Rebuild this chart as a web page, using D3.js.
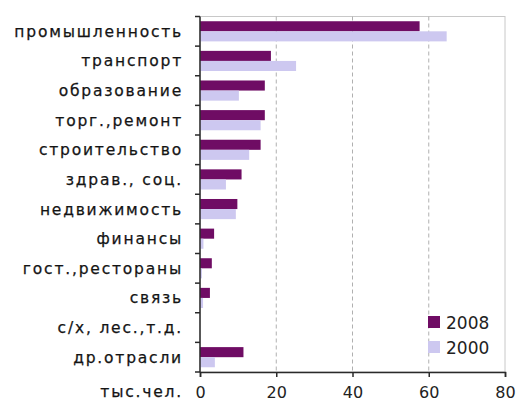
<!DOCTYPE html>
<html>
<head>
<meta charset="utf-8">
<script src="https://cdn.jsdelivr.net/npm/d3@7"></script>
<style>
  html, body { margin: 0; padding: 0; background: #fff; }
  svg { display: block; }
</style>
</head>
<body>
<svg id="chart" width="520" height="403"></svg>
<script>
// Employment by branch, thousand people
const categories = [
  "промышленность", "транспорт", "образование", "торг.,ремонт",
  "строительство", "здрав., соц.", "недвижимость", "финансы",
  "гост.,рестораны", "связь", "с/х, лес.,т.д.", "др.отрасли"
];
const values2008 = [57.6, 18.6, 17.0, 17.0, 15.9, 10.9, 9.8, 3.7, 3.1, 2.6, 0, 11.4];
const values2000 = [64.7, 25.2, 10.2, 15.9, 12.9, 6.8, 9.4, 0.9, 0.5, 0.8, 0, 3.9];
const seriesNames = ["2008", "2000"];
const xTicks = [0, 20, 40, 60, 80];
const unitLabel = "тыс.чел.";

const colors = { "2008": "#6f0c64", "2000": "#cdc8f0" };

const svg = d3.select("#chart");
const plotLeft = 200, plotRight = 505, plotTop = 16.5, plotBottom = 372;

const x = d3.scaleLinear().domain([0, 80]).range([plotLeft, plotRight]);
const y = d3.scaleBand().domain(categories).range([plotTop, plotBottom]).paddingInner(0.32).paddingOuter(0.16);
const sub = d3.scaleBand().domain(seriesNames).range([0, y.bandwidth()]);

// plot frame
svg.append("rect")
  .attr("x", plotLeft).attr("y", plotTop)
  .attr("width", plotRight - plotLeft).attr("height", plotBottom - plotTop)
  .attr("fill", "#fff").attr("stroke", "#c8c8c8").attr("stroke-width", 1);

// dashed vertical gridlines
svg.append("g").selectAll("line")
  .data(xTicks.filter(d => d > 0 && d < 80))
  .join("line")
  .attr("x1", d => x(d)).attr("x2", d => x(d))
  .attr("y1", plotTop).attr("y2", plotBottom)
  .attr("stroke", "#b0b0b0").attr("stroke-width", 1)
  .attr("stroke-dasharray", "4,3");

// bars
const rows = categories.map((c, i) => ({ c, v: { "2008": values2008[i], "2000": values2000[i] } }));
const g = svg.append("g");
rows.forEach(r => {
  seriesNames.forEach(s => {
    g.append("rect")
      .attr("x", x(0))
      .attr("y", y(r.c) + sub(s))
      .attr("width", x(r.v[s]) - x(0))
      .attr("height", sub.bandwidth())
      .attr("fill", colors[s]);
  });
});

// left axis
const yTickPos = categories.map(c => y(c) - y.step() * y.paddingInner() / 2);
yTickPos.push(plotBottom);
svg.append("line")
  .attr("x1", plotLeft).attr("x2", plotLeft).attr("y1", plotTop).attr("y2", plotBottom)
  .attr("stroke", "#2a2a2a").attr("stroke-width", 1.5);
svg.append("g").selectAll("line").data(yTickPos).join("line")
  .attr("x1", plotLeft - 5).attr("x2", plotLeft)
  .attr("y1", d => d).attr("y2", d => d)
  .attr("stroke", "#2a2a2a").attr("stroke-width", 1.5);

// category labels
svg.append("g").selectAll("text").data(categories).join("text")
  .attr("x", 183)
  .attr("y", d => y(d) + y.bandwidth() / 2 + 5.5)
  .attr("text-anchor", "end")
  .attr("font-family", "DejaVu Sans").attr("font-size", 15.5)
  .attr("letter-spacing", 1.8)
  .attr("fill", "#141414")
  .attr("stroke", "#141414").attr("stroke-width", 0.25)
  .text(d => d);

// bottom axis
const xAxis = d3.axisBottom(x).tickValues(xTicks).tickSize(5).tickPadding(10);
const ax = svg.append("g").attr("transform", `translate(0,${plotBottom})`).call(xAxis);
ax.select(".domain").attr("stroke", "#2a2a2a").attr("stroke-width", 1.5);
ax.selectAll(".tick line").attr("stroke", "#2a2a2a").attr("stroke-width", 1.5);
ax.selectAll(".tick text")
  .attr("font-family", "DejaVu Sans").attr("font-size", 16)
  .attr("fill", "#222");

svg.append("text")
  .attr("x", 183).attr("y", 397)
  .attr("text-anchor", "end")
  .attr("font-family", "DejaVu Sans").attr("font-size", 15.5)
  .attr("letter-spacing", 1.8)
  .attr("fill", "#141414")
  .attr("stroke", "#141414").attr("stroke-width", 0.25)
  .text(unitLabel);

// legend
const legend = svg.append("g").attr("transform", "translate(428,316)");
seriesNames.forEach((s, i) => {
  legend.append("rect")
    .attr("x", 0).attr("y", i * 25)
    .attr("width", 12).attr("height", 12)
    .attr("fill", colors[s]);
  legend.append("text")
    .attr("x", 18).attr("y", i * 25 + 12.5)
    .attr("font-family", "DejaVu Sans").attr("font-size", 17)
    .attr("fill", "#222")
    .text(s);
});
</script>
</body>
</html>
